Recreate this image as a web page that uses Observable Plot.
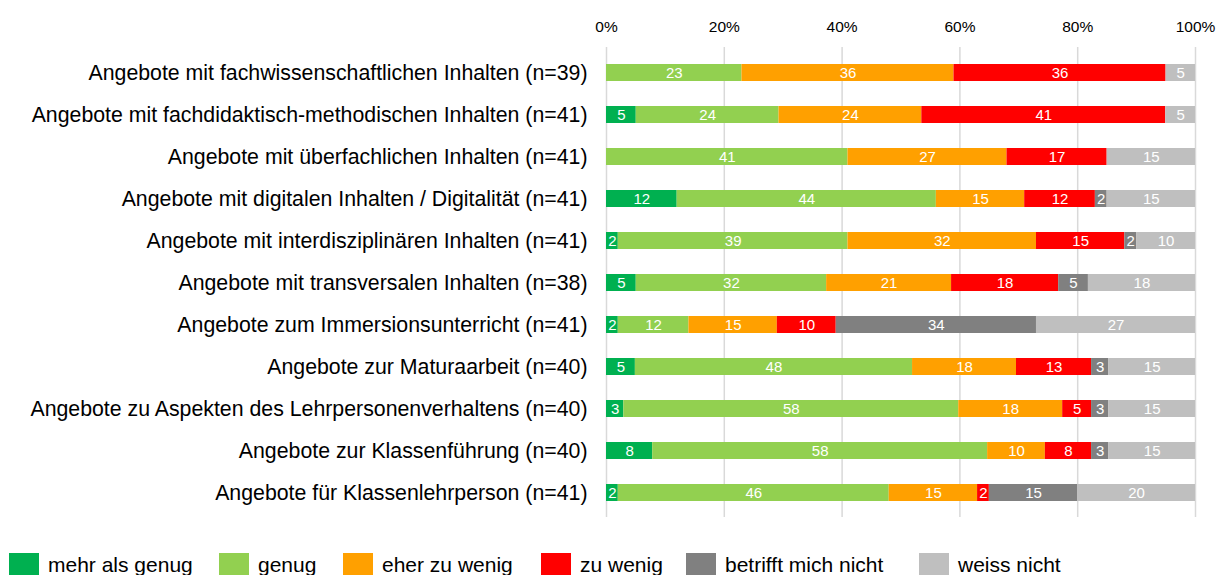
<!DOCTYPE html>
<html>
<head>
<meta charset="utf-8">
<script src="https://cdn.jsdelivr.net/npm/d3@7"></script>
<script src="https://cdn.jsdelivr.net/npm/@observablehq/plot@0.6"></script>
<style>
  body { margin: 0; background: #fff; font-family: "Liberation Sans", Arial, sans-serif; }
  #chart svg { display: block; }
  .legend { position: relative; height: 35px; font-size: 21px; color: #000; }
  .legend .item { position: absolute; top: 13px; display: flex; align-items: center; white-space: nowrap; }
  .legend .sw { width: 30px; height: 24px; margin-right: 9px; }
</style>
</head>
<body>
<div id="chart"></div>
<div class="legend" id="legend"></div>
<script>
const categories = [
  "Angebote mit fachwissenschaftlichen Inhalten (n=39)",
  "Angebote mit fachdidaktisch-methodischen Inhalten (n=41)",
  "Angebote mit überfachlichen Inhalten (n=41)",
  "Angebote mit digitalen Inhalten / Digitalität (n=41)",
  "Angebote mit interdisziplinären Inhalten (n=41)",
  "Angebote mit transversalen Inhalten (n=38)",
  "Angebote zum Immersionsunterricht (n=41)",
  "Angebote zur Maturaarbeit (n=40)",
  "Angebote zu Aspekten des Lehrpersonenverhaltens (n=40)",
  "Angebote zur Klassenführung (n=40)",
  "Angebote für Klassenlehrperson (n=41)"
];
const responses = ["mehr als genug", "genug", "eher zu wenig", "zu wenig", "betrifft mich nicht", "weiss nicht"];
const colors = ["#00b050", "#92d050", "#ffa000", "#ff0000", "#808080", "#bfbfbf"];

const mehrAlsGenug    = [0, 5, 0, 12, 2, 5, 2, 5, 3, 8, 2];
const genug           = [23, 24, 41, 44, 39, 32, 12, 48, 58, 58, 46];
const eherZuWenig     = [36, 24, 27, 15, 32, 21, 15, 18, 18, 10, 15];
const zuWenig         = [36, 41, 17, 12, 15, 18, 10, 13, 5, 8, 2];
const betrifftNicht   = [0, 0, 0, 2, 2, 5, 34, 3, 3, 3, 15];
const weissNicht      = [5, 5, 15, 15, 10, 18, 27, 15, 15, 15, 20];
const xTicks = [0, 0.2, 0.4, 0.6, 0.8, 1];

const series = [mehrAlsGenug, genug, eherZuWenig, zuWenig, betrifftNicht, weissNicht];
const data = [];
responses.forEach((r, i) => {
  categories.forEach((c, j) => {
    const v = series[i][j];
    if (v > 0) data.push({cat: c, resp: r, value: v});
  });
});

const chart = Plot.plot({
  width: 1217,
  height: 540,
  marginLeft: 606,
  marginRight: 22,
  marginTop: 47,
  marginBottom: 23,
  style: {fontFamily: "Liberation Sans, Arial, sans-serif", color: "#000"},
  x: {domain: [0, 1], ticks: xTicks, tickFormat: d3.format(".0%"), axis: null},
  y: {domain: categories, paddingInner: 0.6, paddingOuter: 0.3, axis: null},
  color: {domain: responses, range: colors},
  marks: [
    Plot.ruleX(xTicks, {stroke: "#d9d9d9", strokeWidth: 1.5}),
    Plot.axisX({anchor: "top", ticks: xTicks, tickFormat: d3.format(".0%"), tickSize: 0, tickPadding: 16, fontSize: 15.5, label: null}),
    Plot.axisY({anchor: "left", tickSize: 0, tickPadding: 19, fontSize: 21.3, label: null}),
    Plot.barX(data, Plot.stackX({x: "value", y: "cat", fill: "resp", z: "resp", offset: "normalize", order: responses})),
    Plot.text(data, Plot.stackX({x: "value", y: "cat", z: "resp", offset: "normalize", order: responses, text: d => String(d.value), fill: "white", fontSize: 15}))
  ]
});
document.getElementById("chart").appendChild(chart);

// legend item left edges (layout)
const legendLeft = [9, 219, 343, 541, 686, 919];
const legend = document.getElementById("legend");
responses.forEach((r, i) => {
  const item = document.createElement("div");
  item.className = "item";
  item.style.left = legendLeft[i] + "px";
  const sw = document.createElement("div");
  sw.className = "sw";
  sw.style.background = colors[i];
  const t = document.createElement("span");
  t.textContent = r;
  item.appendChild(sw);
  item.appendChild(t);
  legend.appendChild(item);
});
</script>
</body>
</html>
